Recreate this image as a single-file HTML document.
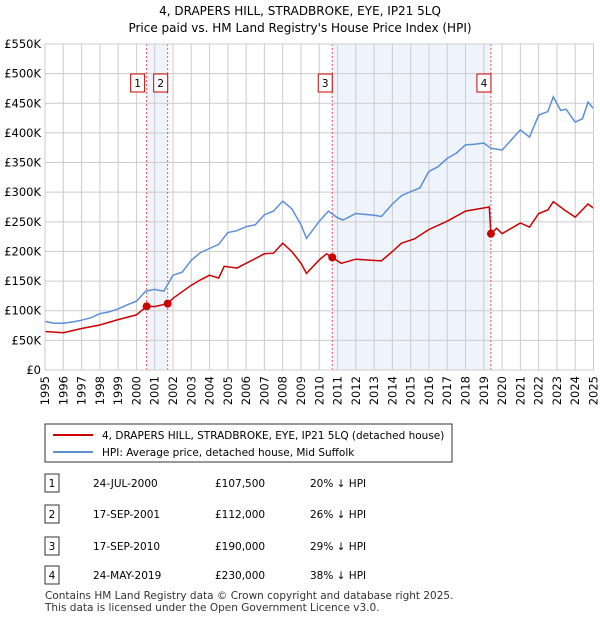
<!DOCTYPE html>
<html><head><meta charset="utf-8"><style>
body{margin:0;background:#fff;font-family:"Liberation Sans","DejaVu Sans",sans-serif;}
svg text{font-family:"DejaVu Sans","Liberation Sans",sans-serif;}
</style></head><body>
<svg id="c" width="600" height="620" viewBox="0 0 600 620" xmlns="http://www.w3.org/2000/svg">
<text x="300" y="15" text-anchor="middle" font-size="12" fill="#000">4, DRAPERS HILL, STRADBROKE, EYE, IP21 5LQ</text>
<text x="300" y="32" text-anchor="middle" font-size="12" fill="#000">Price paid vs. HM Land Registry's House Price Index (HPI)</text>
<g id="plot"></g>
<g>
<rect x="45" y="424" width="407" height="38" fill="#fff" stroke="#333" stroke-width="1"/>
<line x1="53" y1="435" x2="93" y2="435" stroke="#cc0000" stroke-width="2"/>
<text x="102" y="439" font-size="10.5">4, DRAPERS HILL, STRADBROKE, EYE, IP21 5LQ (detached house)</text>
<line x1="53" y1="452" x2="93" y2="452" stroke="#5b8fd6" stroke-width="2"/>
<text x="102" y="456" font-size="10.5">HPI: Average price, detached house, Mid Suffolk</text>
</g>
<g id="tbl" font-size="10.5"></g>
<text x="45" y="599" font-size="10.5" fill="#333">Contains HM Land Registry data © Crown copyright and database right 2025.</text>
<text x="45" y="611" font-size="10.5" fill="#333">This data is licensed under the Open Government Licence v3.0.</text>
</svg>
<script>
const years=[1995,1996,1997,1998,1999,2000,2001,2002,2003,2004,2005,2006,2007,2008,2009,2010,2011,2012,2013,2014,2015,2016,2017,2018,2019,2020,2021,2022,2023,2024,2025];
const yTicks=[0,50000,100000,150000,200000,250000,300000,350000,400000,450000,500000,550000];
const yLabels=["£0","£50K","£100K","£150K","£200K","£250K","£300K","£350K","£400K","£450K","£500K","£550K"];
const hpiT=[1995,1995.5,1996,1996.5,1997,1997.5,1998,1998.5,1999,1999.5,2000,2000.5,2001,2001.5,2002,2002.5,2003,2003.5,2004,2004.5,2005,2005.5,2006,2006.5,2007,2007.5,2008,2008.5,2009,2009.3,2010,2010.5,2011,2011.3,2012,2013,2013.4,2014,2014.5,2015,2015.5,2016,2016.5,2017,2017.5,2018,2018.5,2019,2019.4,2020,2020.5,2021,2021.5,2022,2022.5,2022.8,2023.2,2023.5,2024,2024.4,2024.7,2025];
const hpiV=[82000,79000,79000,81000,84000,88000,95000,98000,103000,110000,116000,133000,136000,133000,160000,165000,185000,198000,205000,212000,232000,235000,242000,245000,262000,268000,285000,272000,245000,222000,251000,268000,257000,253000,264000,261000,259000,280000,294000,301000,307000,335000,343000,357000,366000,380000,381000,383000,374000,371000,388000,405000,393000,430000,436000,461000,438000,440000,418000,424000,452000,441000];
const ppT=[1995,1996,1997,1998,1999,2000,2000.56,2001,2001.71,2002,2003,2003.5,2004,2004.5,2004.8,2005.5,2006,2007,2007.5,2008,2008.5,2009,2009.3,2010,2010.4,2010.71,2011.2,2012,2013.4,2014,2014.5,2015.2,2016,2017,2018,2019.3,2019.39,2019.7,2020,2021,2021.5,2022,2022.5,2022.8,2023.5,2024,2024.7,2025];
const ppV=[65000,63000,70000,76000,85000,93000,107500,107000,112000,121000,143000,152000,160000,155000,175000,172000,180000,196000,197000,214000,200000,180000,163000,186000,196000,190000,180000,187000,184000,200000,214000,221000,237000,251000,268000,275000,230000,239000,230000,248000,241000,264000,270000,284000,268000,258000,280000,273000];
const saleT=[2000.56,2001.71,2010.71,2019.39];
const saleV=[107500,112000,190000,230000];
const saleLabels=["1","2","3","4"];
const saleDates=["24-JUL-2000","17-SEP-2001","17-SEP-2010","24-MAY-2019"];
const salePrices=["£107,500","£112,000","£190,000","£230,000"];
const saleDiffs=["20% ↓ HPI","26% ↓ HPI","29% ↓ HPI","38% ↓ HPI"];
const X0=45,X1=593.5,Y0=370,Y1=44;
function xs(t){return X0+(t-1995)/30*(X1-X0);}
function ys(v){return Y0-v/550000*(Y0-Y1);}
const NS="http://www.w3.org/2000/svg";
const plot=document.getElementById('plot');
function mk(tag,attrs,parent){const e=document.createElementNS(NS,tag);for(const k in attrs)e.setAttribute(k,attrs[k]);(parent||plot).appendChild(e);return e;}
let r=mk('rect',{x:xs(saleT[0]),y:Y1,width:xs(saleT[1])-xs(saleT[0]),height:Y0-Y1,fill:'#eef3fc'});


r=mk('rect',{x:xs(saleT[2]),y:Y1,width:xs(saleT[3])-xs(saleT[2]),height:Y0-Y1,fill:'#eef3fc'});


years.forEach((y,i)=>{const l=mk('line',{x1:xs(y),y1:Y1,x2:xs(y),y2:Y0,stroke:'#cccccc','stroke-width':1});


const t=mk('text',{x:0,y:0,'font-size':11.5,'text-anchor':'end',transform:`translate(${xs(y)+4},${Y0+6}) rotate(-90)`});
t.textContent=y;

});
yTicks.forEach((v,i)=>{const l=mk('line',{x1:X0,y1:ys(v),x2:X1,y2:ys(v),stroke:'#cccccc','stroke-width':1});


const t=mk('text',{x:X0-4,y:ys(v)+4,'font-size':11.5,'text-anchor':'end'});
t.textContent=yLabels[i];

});
saleT.forEach((t,i)=>{const l=mk('line',{x1:xs(t),y1:Y1,x2:xs(t),y2:Y0,stroke:'#ee5555','stroke-width':1,'stroke-dasharray':'2,2'});


const bx=(i===0)?xs(t)-9:xs(t)-7;
const b=mk('rect',{x:bx-7,y:74,width:14,height:18,fill:'#fff',stroke:'#cc0000','stroke-width':1});


const tx=mk('text',{x:bx,y:87,'font-size':10.5,'text-anchor':'middle'});
tx.textContent=saleLabels[i];

});
function path(T,V){return T.map((t,i)=>(i?'L':'M')+xs(t).toFixed(1)+','+ys(V[i]).toFixed(1)).join('');}
let p=mk('path',{d:path(hpiT,hpiV),fill:'none',stroke:'#5b8fd6','stroke-width':1.5});


p=mk('path',{d:path(ppT,ppV),fill:'none',stroke:'#cc0000','stroke-width':1.5});


saleT.forEach((t,i)=>{const c=mk('circle',{cx:xs(t),cy:ys(saleV[i]),r:4,fill:'#cc0000'});

});
const fr=mk('rect',{x:X0,y:Y1,width:X1-X0,height:Y0-Y1,fill:'none',stroke:'#cccccc'});


const tbl=document.getElementById('tbl');
const rowY=[483,514,546,575];
saleT.forEach((t,i)=>{const y=rowY[i];
const b=mk('rect',{x:45,y:y-9,width:14,height:18,fill:'#fff',stroke:'#333'},tbl);


const cells=[[52,saleLabels[i],'middle'],[93,saleDates[i],'start'],[215,salePrices[i],'start'],[310,saleDiffs[i],'start']];
cells.forEach(c=>{const e=mk('text',{x:c[0],y:y+4,'text-anchor':c[2],'font-size':10.5},tbl);
e.textContent=c[1];

});});
</script>
</body></html>
